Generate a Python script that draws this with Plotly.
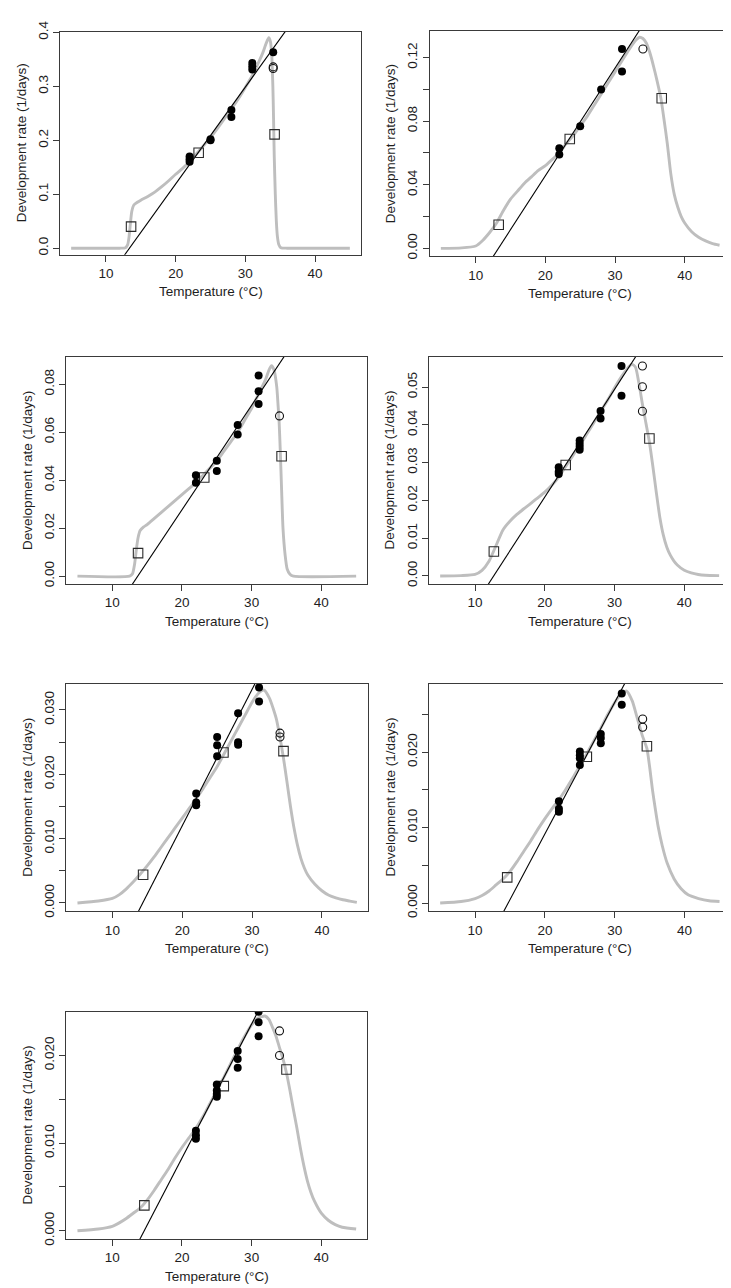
import plotly.graph_objects as go

# ---------------- data ----------------
# Panel 1
p1_fill_x = [22, 22, 22, 25, 25, 28, 28, 31, 31, 31, 34]
p1_fill_y = [0.170, 0.165, 0.160, 0.200, 0.202, 0.256, 0.243, 0.343, 0.337, 0.331, 0.363]
p1_open_x = [34, 34]
p1_open_y = [0.336, 0.333]
p1_sq_x = [13.6, 23.3, 34.2]
p1_sq_y = [0.040, 0.177, 0.211]
p1_line_x = [12.5, 36.0]
p1_line_y = [-0.0156, 0.4064]
p1_curve_x = [5, 12, 12.8, 13.1, 13.3, 13.5, 13.7, 14, 14.5, 15, 16, 17, 18, 19, 20, 21, 22, 23, 24, 25,
              26, 27, 28, 29, 30, 31, 32, 32.5, 33, 33.36, 33.6, 33.8, 33.95, 34.05, 34.15, 34.3, 34.45,
              34.6, 34.8, 35.1, 36, 45]
p1_curve_y = [0, 0, 0.001, 0.006, 0.02, 0.045, 0.068, 0.080, 0.085, 0.089, 0.096, 0.104, 0.114, 0.125,
              0.137, 0.148, 0.160, 0.175, 0.190, 0.205, 0.222, 0.240, 0.258, 0.277, 0.298, 0.320, 0.347,
              0.362, 0.380, 0.390, 0.383, 0.355, 0.300, 0.240, 0.170, 0.100, 0.050, 0.022, 0.007, 0.001, 0, 0]

# Panel 2
p2_fill_x = [22, 22, 25, 28, 31, 31]
p2_fill_y = [0.0630, 0.0591, 0.0768, 0.1000, 0.1254, 0.1113]
p2_open_x = [34]
p2_open_y = [0.1254]
p2_sq_x = [13.3, 23.5, 36.7]
p2_sq_y = [0.0149, 0.0688, 0.0944]
p2_line_x = [12.3, 33.8]
p2_line_y = [-0.0065, 0.1391]
p2_curve_x = [5, 8, 10, 11, 12, 13, 14, 15, 16, 17, 18, 19, 20, 21, 22, 23, 24, 25, 26, 27, 28, 29, 30,
              31, 32, 33, 33.5, 34, 34.5, 35, 35.5, 36, 36.6, 37, 37.5, 38, 38.5, 39, 39.5, 40, 41, 42,
              43, 44, 45]
p2_curve_y = [0, 0.0003, 0.0015, 0.005, 0.010, 0.016, 0.024, 0.031, 0.036, 0.041, 0.045, 0.049, 0.052,
              0.056, 0.060, 0.066, 0.071, 0.077, 0.083, 0.090, 0.097, 0.104, 0.111, 0.118, 0.125, 0.131,
              0.1328, 0.132, 0.129, 0.123, 0.115, 0.106, 0.094, 0.082, 0.066, 0.047, 0.034, 0.026, 0.020,
              0.016, 0.0105, 0.007, 0.0047, 0.003, 0.002]

# Panel 3
p3_fill_x = [22, 22, 25, 25, 28, 28, 31, 31, 31]
p3_fill_y = [0.0421, 0.0389, 0.0481, 0.0438, 0.0630, 0.0590, 0.0836, 0.0771, 0.0718]
p3_open_x = [34]
p3_open_y = [0.0668]
p3_sq_x = [13.7, 23.2, 34.3]
p3_sq_y = [0.0096, 0.0411, 0.0500]
p3_line_x = [12.6, 35.0]
p3_line_y = [-0.0046, 0.0930]
p3_curve_x = [5, 12.5, 12.9, 13.2, 13.45, 13.7, 14.0, 14.5, 15, 16, 17, 18, 19, 20, 21, 22, 23, 24, 25,
              26, 27, 28, 29, 30, 31, 32, 32.5, 32.85, 33.2, 33.6, 33.8, 33.95, 34.1, 34.3, 34.5, 34.8,
              35.1, 35.5, 36, 45]
p3_curve_y = [0, 0, 0.001, 0.005, 0.011, 0.016, 0.019, 0.0205, 0.0215, 0.024, 0.0265, 0.029, 0.0315,
              0.034, 0.0365, 0.039, 0.042, 0.045, 0.048, 0.052, 0.056, 0.060, 0.065, 0.070, 0.076, 0.082,
              0.086, 0.0877, 0.086, 0.079, 0.071, 0.064, 0.053, 0.036, 0.020, 0.009, 0.003, 0.0008, 0, 0]

# Panel 4
p4_fill_x = [22, 22, 22, 25, 25, 25, 25, 28, 28, 31, 31]
p4_fill_y = [0.0288, 0.0276, 0.0270, 0.0359, 0.0350, 0.0342, 0.0334, 0.0437, 0.0417, 0.0556, 0.0477]
p4_open_x = [34, 34, 34]
p4_open_y = [0.0556, 0.0501, 0.0436]
p4_sq_x = [12.7, 23.0, 35.0]
p4_sq_y = [0.0065, 0.0294, 0.0364]
p4_line_x = [11.6, 33.4]
p4_line_y = [-0.00305, 0.0591]
p4_curve_x = [5, 8, 10, 11, 12, 13, 14, 15, 16, 17, 18, 19, 20, 21, 22, 23, 24, 25, 26, 27, 28, 29, 30,
              31, 32, 32.5, 33, 33.5, 34, 34.5, 35, 35.5, 36, 36.5, 37, 37.5, 38, 38.5, 39, 40, 41, 42,
              43, 45]
p4_curve_y = [0, 0.0001, 0.0004, 0.0015, 0.0039, 0.0080, 0.0122, 0.0145, 0.0163, 0.0178, 0.0192, 0.0207,
              0.0222, 0.0240, 0.0262, 0.0290, 0.0318, 0.0345, 0.0375, 0.0405, 0.0435, 0.0465, 0.0498,
              0.0528, 0.0553, 0.0561, 0.0553, 0.0510, 0.0455, 0.0405, 0.0355, 0.0290, 0.0220, 0.0155,
              0.0108, 0.0076, 0.0055, 0.0040, 0.0029, 0.0015, 0.0008, 0.0004, 0.0002, 0.0001]

# Panel 5
p5_fill_x = [22, 22, 22, 25, 25, 25, 28, 28, 28, 31, 31]
p5_fill_y = [0.0170, 0.0156, 0.0152, 0.0258, 0.0245, 0.0228, 0.0295, 0.0250, 0.0246, 0.0335, 0.0313]
p5_open_x = [34, 34]
p5_open_y = [0.0264, 0.0258]
p5_sq_x = [14.4, 25.9, 34.5]
p5_sq_y = [0.0044, 0.0234, 0.0236]
p5_line_x = [13.5, 30.7]
p5_line_y = [-0.00178, 0.03468]
p5_curve_x = [5, 8, 10, 11, 12, 13, 14, 15, 16, 17, 18, 19, 20, 21, 22, 23, 24, 25, 26, 27, 28, 29, 30,
              31, 31.7, 32.5, 33, 33.5, 34, 34.5, 35, 35.5, 36, 36.5, 37, 37.5, 38, 39, 40, 41, 42, 43,
              44, 45]
p5_curve_y = [0, 0.0003, 0.0007, 0.0013, 0.0022, 0.0033, 0.0045, 0.0058, 0.0072, 0.0087, 0.0102, 0.0117,
              0.0132, 0.0147, 0.0162, 0.0178, 0.0195, 0.0212, 0.0232, 0.0252, 0.0272, 0.0292, 0.0312,
              0.0327, 0.0331, 0.0318, 0.0303, 0.0285, 0.0257, 0.0225, 0.0188, 0.0150, 0.0117, 0.0090,
              0.0069, 0.0054, 0.0043, 0.0029, 0.0019, 0.0012, 0.0008, 0.0005, 0.0003, 0.0001]

# Panel 6
p6_fill_x = [22, 22, 22, 25, 25, 25, 25, 28, 28, 28, 31, 31]
p6_fill_y = [0.0135, 0.0125, 0.0121, 0.0201, 0.0196, 0.0192, 0.0183, 0.0224, 0.0219, 0.0212, 0.0278, 0.0263]
p6_open_x = [34, 34]
p6_open_y = [0.0244, 0.0233]
p6_sq_x = [14.6, 26.0, 34.6]
p6_sq_y = [0.0034, 0.0194, 0.0208]
p6_line_x = [13.9, 31.7]
p6_line_y = [-0.00145, 0.02958]
p6_curve_x = [5, 8, 10, 11, 12, 13, 14, 15, 16, 17, 18, 19, 20, 21, 22, 23, 24, 25, 26, 27, 28, 29, 30,
              31, 31.7, 32.5, 33.2, 33.95, 34.6, 35.0, 35.4, 35.8, 36.2, 36.8, 37.5, 38.5, 39.5, 40.5,
              42, 43.5, 45]
p6_curve_y = [0, 0.0002, 0.0006, 0.0010, 0.0016, 0.0024, 0.0032, 0.0042, 0.0055, 0.0069, 0.0083, 0.0098,
              0.0112, 0.0125, 0.0137, 0.0151, 0.0166, 0.0182, 0.0198, 0.0215, 0.0232, 0.0250, 0.0266,
              0.0278, 0.0281, 0.0268, 0.0246, 0.0222, 0.0205, 0.0180, 0.0150, 0.0125, 0.0102, 0.0076,
              0.0053, 0.0032, 0.0019, 0.0011, 0.0006, 0.0003, 0.0002]

# Panel 7
p7_fill_x = [22, 22, 22, 25, 25, 25, 25, 28, 28, 28, 31, 31, 31]
p7_fill_y = [0.0114, 0.0109, 0.0105, 0.0167, 0.0160, 0.0156, 0.0153, 0.0205, 0.0196, 0.0186, 0.0250,
             0.0238, 0.0222]
p7_open_x = [34, 34]
p7_open_y = [0.0228, 0.0200]
p7_sq_x = [14.6, 26.0, 35.0]
p7_sq_y = [0.0029, 0.0165, 0.0184]
p7_line_x = [13.8, 31.2]
p7_line_y = [-0.0012, 0.02544]
p7_curve_x = [5, 8, 10, 11, 12, 13, 14, 15, 16, 17, 18, 19, 20, 21, 22, 23, 24, 25, 26, 27, 28, 29, 30,
              31, 31.9, 32.5, 33, 33.5, 34, 34.5, 35, 35.5, 36, 36.5, 37, 37.5, 38, 38.5, 39, 40, 41, 42,
              43, 45]
p7_curve_y = [0, 0.0002, 0.0005, 0.0009, 0.0014, 0.0020, 0.0026, 0.0035, 0.0046, 0.0058, 0.0070, 0.0083,
              0.0095, 0.0106, 0.0117, 0.0130, 0.0145, 0.0160, 0.0175, 0.0191, 0.0207, 0.0222, 0.0235,
              0.0243, 0.0245, 0.0241, 0.0232, 0.0222, 0.0209, 0.0196, 0.0180, 0.0160, 0.0138, 0.0117,
              0.0094, 0.0074, 0.0057, 0.0044, 0.0034, 0.0020, 0.0012, 0.0007, 0.0004, 0.0002]

# axis ticks
x_ticks = [10, 20, 30, 40]
y_tick_vals = [
    [0, 0.1, 0.2, 0.3, 0.4],
    [0, 0.02, 0.04, 0.06, 0.08, 0.10, 0.12],
    [0, 0.02, 0.04, 0.06, 0.08],
    [0, 0.01, 0.02, 0.03, 0.04, 0.05],
    [0, 0.005, 0.010, 0.015, 0.020, 0.025, 0.030],
    [0, 0.005, 0.010, 0.015, 0.020, 0.025],
    [0, 0.005, 0.010, 0.015, 0.020],
]
y_tick_text = [
    ["0.0", "0.1", "0.2", "0.3", "0.4"],
    ["0.00", "", "0.04", "", "0.08", "", "0.12"],
    ["0.00", "0.02", "0.04", "0.06", "0.08"],
    ["0.00", "0.01", "0.02", "0.03", "0.04", "0.05"],
    ["0.000", "", "0.010", "", "0.020", "", "0.030"],
    ["0.000", "", "0.010", "", "0.020", ""],
    ["0.000", "", "0.010", "", "0.020"],
]
x_title = "Temperature (°C)"
y_title = "Development rate (1/days)"

# ---------------- layout geometry ----------------
W, H = 731, 1288
boxes = [  # left, right, top, bottom in pixels
    (52, 353, 13, 239),
    (421.7, 722.7, 11.7, 240.7),
    (58.3, 359.3, 342.7, 573.3),
    (421, 722.3, 342.7, 573.3),
    (58.3, 360, 674, 905),
    (421, 722.7, 674, 905),
    (58.3, 359.3, 1006.7, 1237.3),
]
y_ranges = [
    [-0.012, 0.401],
    [-0.005, 0.137],
    [-0.0034, 0.0914],
    [-0.0022, 0.058],
    [-0.0013, 0.0341],
    [-0.0011, 0.0291],
    [-0.00094, 0.0250],
]
x_range = [3.4, 46.6]

panels = [
    (p1_fill_x, p1_fill_y, p1_open_x, p1_open_y, p1_sq_x, p1_sq_y, p1_line_x, p1_line_y, p1_curve_x, p1_curve_y),
    (p2_fill_x, p2_fill_y, p2_open_x, p2_open_y, p2_sq_x, p2_sq_y, p2_line_x, p2_line_y, p2_curve_x, p2_curve_y),
    (p3_fill_x, p3_fill_y, p3_open_x, p3_open_y, p3_sq_x, p3_sq_y, p3_line_x, p3_line_y, p3_curve_x, p3_curve_y),
    (p4_fill_x, p4_fill_y, p4_open_x, p4_open_y, p4_sq_x, p4_sq_y, p4_line_x, p4_line_y, p4_curve_x, p4_curve_y),
    (p5_fill_x, p5_fill_y, p5_open_x, p5_open_y, p5_sq_x, p5_sq_y, p5_line_x, p5_line_y, p5_curve_x, p5_curve_y),
    (p6_fill_x, p6_fill_y, p6_open_x, p6_open_y, p6_sq_x, p6_sq_y, p6_line_x, p6_line_y, p6_curve_x, p6_curve_y),
    (p7_fill_x, p7_fill_y, p7_open_x, p7_open_y, p7_sq_x, p7_sq_y, p7_line_x, p7_line_y, p7_curve_x, p7_curve_y),
]

FONT = "Liberation Sans, Arial, sans-serif"
TXT = "#1e1e1e"
FRAME = "#3a3a3a"
GRAY = "#bebebe"

fig = go.Figure()
annotations = []
for i, (fx, fy, ox, oy, sx, sy, lx, ly, cx, cy) in enumerate(panels):
    n = "" if i == 0 else str(i + 1)
    xa, ya = "x" + n, "y" + n
    fig.add_trace(go.Scatter(x=cx, y=cy, mode="lines", xaxis=xa, yaxis=ya,
                             line=dict(color=GRAY, width=2.9, shape="spline", smoothing=0.6),
                             showlegend=False, hoverinfo="skip"))
    fig.add_trace(go.Scatter(x=lx, y=ly, mode="lines", xaxis=xa, yaxis=ya,
                             line=dict(color="#000000", width=1.1), showlegend=False, hoverinfo="skip"))
    fig.add_trace(go.Scatter(x=sx, y=sy, mode="markers", xaxis=xa, yaxis=ya,
                             marker=dict(symbol="square-open", size=9.5, color="#2a2a2a",
                                         line=dict(width=1.1)), showlegend=False))
    fig.add_trace(go.Scatter(x=ox, y=oy, mode="markers", xaxis=xa, yaxis=ya,
                             marker=dict(symbol="circle-open", size=8, color="#111111",
                                         line=dict(width=1.1)), showlegend=False))
    fig.add_trace(go.Scatter(x=fx, y=fy, mode="markers", xaxis=xa, yaxis=ya,
                             marker=dict(symbol="circle", size=8, color="#000000",
                                         line=dict(width=0)), showlegend=False))

    l, r, t, b = boxes[i]
    xd = [l / W, r / W]
    yd = [1 - b / H, 1 - t / H]
    axis_common = dict(showline=True, mirror=True, linecolor=FRAME, linewidth=1,
                       showgrid=False, zeroline=False, ticks="outside", ticklen=6,
                       tickwidth=1, tickcolor=FRAME,
                       tickfont=dict(family=FONT, size=13.5, color=TXT))
    fig.layout["xaxis" + n] = dict(domain=xd, range=x_range, tickvals=x_ticks,
                                   ticktext=[str(v) for v in x_ticks], anchor=ya, **axis_common)
    fig.layout["yaxis" + n] = dict(domain=yd, range=y_ranges[i], tickvals=y_tick_vals[i],
                                   ticktext=y_tick_text[i], tickangle=-90, anchor=xa, **axis_common)
    annotations.append(dict(text=x_title, xref="paper", yref="paper", x=(xd[0] + xd[1]) / 2,
                            y=yd[0], xanchor="center", yanchor="middle", yshift=-37, showarrow=False,
                            font=dict(family=FONT, size=13.5, color=TXT)))
    annotations.append(dict(text=y_title, xref="paper", yref="paper", x=xd[0], y=(yd[0] + yd[1]) / 2,
                            xanchor="center", yanchor="middle", xshift=-39, textangle=-90,
                            showarrow=False, font=dict(family=FONT, size=13.5, color=TXT)))

fig.update_layout(width=W, height=H, margin=dict(l=0, r=0, t=0, b=0),
                  paper_bgcolor="white", plot_bgcolor="white", annotations=annotations)
fig.write_html("out.html")
